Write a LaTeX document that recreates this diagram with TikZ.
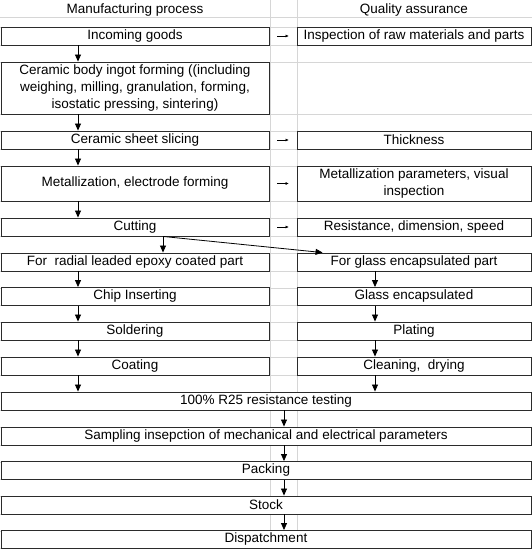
\documentclass[tikz,border=0pt]{standalone}
\usepackage{fontspec}
\setmainfont{Liberation Sans}
\usetikzlibrary{arrows.meta,positioning}
\definecolor{gridgray}{HTML}{D6D6D6}
\definecolor{boxline}{HTML}{2B2B2B}

\begin{document}
\begin{tikzpicture}[x=1pt,y=-1pt,
  lbox/.style={draw=boxline,fill=white,line width=0.9pt,minimum width=268pt,
    minimum height=18pt,inner sep=0pt,align=center,
    font=\fontsize{13.5}{17}\selectfont},
  rbox/.style={lbox,minimum width=234pt},
  wbox/.style={lbox,minimum width=530pt},
  hd/.style={inner sep=0pt,font=\fontsize{13.5}{17}\selectfont},
  dn/.style={-{Triangle[length=7pt,width=6pt]},line width=0.8pt},
  qa/.style={-{Triangle[length=3pt,width=2.6pt]},line width=0.5pt,shorten <=8pt,shorten >=8pt},
  gline/.style={draw=gridgray,line width=0.6pt}]
\useasboundingbox (0,0) rectangle (532,549);
\foreach \y in {17,27,45,62,114,131,149,166,201,218,236,253,271,288,305,322,340,357,375,392,410,427,445,462,479,496,514,531,548}
  \draw[gline] (0,\y) -- (532,\y);
\draw[gline] (270,0) -- (270,549); \draw[gline] (297,0) -- (297,549);
\coordinate (lx) at (78,0); \coordinate (cx) at (163,0);
\coordinate (rx) at (375,0); \coordinate (mx) at (284,0);
\node[hd] (mh) at (135,10) {Manufacturing process};
\node[hd] (qh) at (414,10) {Quality assurance};
\node[lbox] (inc) at (135,36) {Incoming goods};
\node[rbox] (raw) at (414,36) {Inspection of raw materials and parts};
\node[lbox,minimum height=52pt] (cer) at (135,88)
  {Ceramic body ingot forming ((including\\weighing, milling, granulation, forming,\\isostatic pressing, sintering)};
\node[lbox] (sli) at (135,140) {Ceramic sheet slicing};
\node[rbox] (thk) at (414,140) {Thickness};
\node[lbox,minimum height=35pt] (met) at (135,183.5) {Metallization, electrode forming};
\node[rbox,minimum height=35pt] (mpar) at (414,183.5) {Metallization parameters, visual\\inspection};
\node[lbox] (cut) at (135,227) {Cutting};
\node[rbox] (res) at (414,227) {Resistance, dimension, speed};
\node[lbox] (rad) at (135,262) {For~ radial leaded epoxy coated part};
\node[rbox] (gl) at (414,262) {For glass encapsulated part};
\node[lbox] (chip) at (135,296.5) {Chip Inserting};
\node[rbox] (gle) at (414,296.5) {Glass encapsulated};
\node[lbox] (sol) at (135,331) {Soldering};
\node[rbox] (pla) at (414,331) {Plating};
\node[lbox] (coat) at (135,366) {Coating};
\node[rbox] (cln) at (414,366) {Cleaning,~ drying};
\node[wbox] (r25) at (266,401) {100\% R25 resistance testing};
\node[wbox] (smp) at (266,436) {Sampling insepction of mechanical and electrical parameters};
\node[wbox] (pck) at (266,470.5) {Packing};
\node[wbox] (stk) at (266,505) {Stock};
\node[wbox] (dsp) at (266,539.5) {Dispatchment};
\draw[qa] (inc)--(raw); \draw[qa] (sli)--(thk); \draw[qa] (met)--(mpar); \draw[qa] (cut)--(res);
\draw[dn] (inc.south -| lx)--(cer.north -| lx); \draw[dn] (cer.south -| lx)--(sli.north -| lx);
\draw[dn] (sli.south -| lx)--(met.north -| lx); \draw[dn] (met.south -| lx)--(cut.north -| lx);
\draw[dn] (cut.south -| cx)--(rad.north -| cx);
\draw[dn] (cut.south -| cx)--([xshift=26pt]gl.north west);
\draw[dn] (rad.south -| lx)--(chip.north -| lx); \draw[dn] (chip.south -| lx)--(sol.north -| lx);
\draw[dn] (sol.south -| lx)--(coat.north -| lx); \draw[dn] (coat.south -| lx)--(r25.north -| lx);
\draw[dn] (gl.south -| rx)--(gle.north -| rx); \draw[dn] (gle.south -| rx)--(pla.north -| rx);
\draw[dn] (pla.south -| rx)--(cln.north -| rx); \draw[dn] (cln.south -| rx)--(r25.north -| rx);
\draw[dn] (r25.south -| mx)--(smp.north -| mx); \draw[dn] (smp.south -| mx)--(pck.north -| mx);
\draw[dn] (pck.south -| mx)--(stk.north -| mx); \draw[dn] (stk.south -| mx)--(dsp.north -| mx);
\end{tikzpicture}
\end{document}
